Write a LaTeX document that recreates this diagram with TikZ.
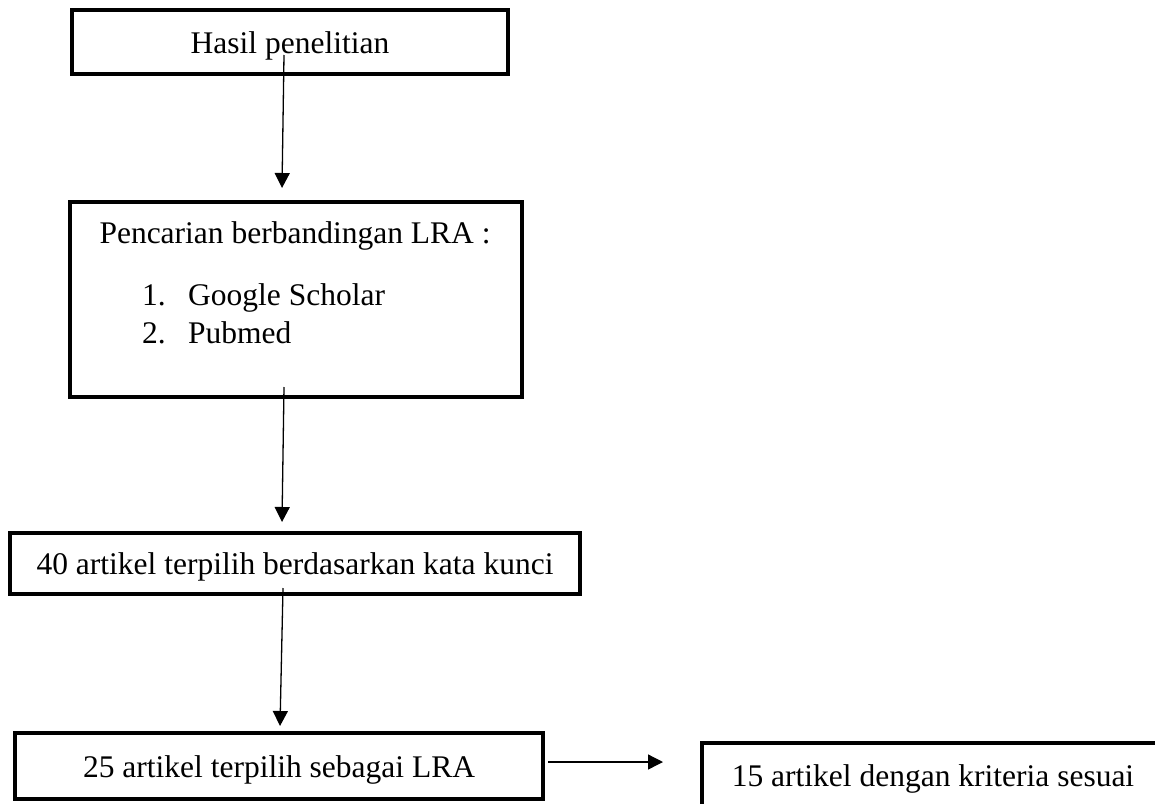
\documentclass[tikz,border=0pt]{standalone}
\usepackage{fontspec}
\setmainfont{Liberation Serif}
\usetikzlibrary{arrows.meta}
\begin{document}
\begin{tikzpicture}[x=1pt,y=-1pt,
  box/.style={draw,line width=3.3pt,inner sep=0pt,text height=22pt,text depth=0pt,font=\fontsize{31.5}{38}\selectfont},
  txt/.style={inner sep=0pt,font=\fontsize{31.5}{38}\selectfont},
  arr/.style={line width=1.3pt,-{Triangle[length=15pt,width=15pt]}}]
\useasboundingbox (0,0) rectangle (1155,803);
\clip (0,0) rectangle (1155,803);
\fill[white] (0,0) rectangle (1155,803);
% boxes
\node[box,minimum width=436pt,minimum height=64pt] (b1) at (290,42) {Hasil penelitian};
\node[box,minimum width=452pt,minimum height=195pt] (b2) at (296,299.5) {};
\node[txt,anchor=base] (t2) at (295,243) {Pencarian berbandingan LRA :};
\node[txt,anchor=base west] (i1) at (142,305) {\makebox[46pt][l]{1.}Google Scholar};
\node[txt,anchor=base west] (i2) at (142,343) {\makebox[46pt][l]{2.}Pubmed};
\node[box,minimum width=570pt,minimum height=61pt] (b3) at (295,563.5) {40 artikel terpilih berdasarkan kata kunci};
\node[box,minimum width=528pt,minimum height=66pt] (b4) at (279,766) {25 artikel terpilih sebagai LRA};
\node[box,minimum width=462pt,minimum height=64pt] (b5) at (933,775) {15 artikel dengan kriteria sesuai};
% connector ends
\coordinate (s1) at (284,55);
\coordinate (e1) at (282,188);
\coordinate (s2) at (284,387);
\coordinate (e2) at (282,522);
\coordinate (s3) at (283,588);
\coordinate (e3) at (280,726);
\coordinate (s4) at (548,762);
\coordinate (e4) at (663,762);
\draw[arr] (s1) -- (e1);
\draw[arr] (s2) -- (e2);
\draw[arr] (s3) -- (e3);
\draw[arr] (s4) -- (e4);
\end{tikzpicture}
\end{document}
